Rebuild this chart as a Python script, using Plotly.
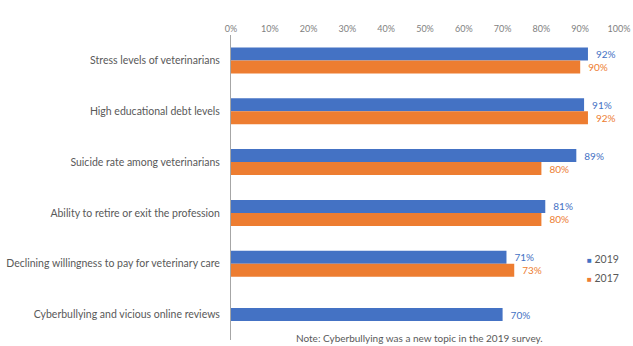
import plotly.graph_objects as go

categories = [
    "Stress levels of veterinarians",
    "High educational debt levels",
    "Suicide rate among veterinarians",
    "Ability to retire or exit the profession",
    "Declining willingness to pay for veterinary care",
    "Cyberbullying and vicious online reviews",
]
values_2019 = [0.92, 0.91, 0.89, 0.81, 0.71, 0.70]
values_2017 = [0.90, 0.92, 0.80, 0.80, 0.73, None]
tick_vals = [0, 0.1, 0.2, 0.3, 0.4, 0.5, 0.6, 0.7, 0.8, 0.9, 1.0]
tick_text = ["0%", "10%", "20%", "30%", "40%", "50%", "60%", "70%", "80%", "90%", "100%"]
series_names = ["2019", "2017"]
note = "Note: Cyberbullying was a new topic in the 2019 survey."

BLUE = "#4472C4"
ORANGE = "#ED7D31"
W = 0.255
FONT = "Lato"

idx = list(range(len(categories)))
offs_2019 = [-W / 2 if values_2017[i] is None else -W for i in idx]

fig = go.Figure()
fig.add_trace(go.Bar(
    name=series_names[0], y=idx, x=values_2019, orientation="h",
    marker=dict(color=BLUE, line=dict(width=0)),
    width=W, offset=offs_2019, showlegend=False,
    text=[f"\u2002{round(v*100)}%" for v in values_2019],
    textposition="outside", textfont=dict(color=BLUE, size=10, family=FONT),
    cliponaxis=False,
))
fig.add_trace(go.Bar(
    name=series_names[1], y=idx, x=values_2017, orientation="h",
    marker=dict(color=ORANGE, line=dict(width=0)),
    width=W, offset=0, showlegend=False,
    text=[f"\u2002{round(v*100)}%" if v is not None else "" for v in values_2017],
    textposition="outside", textfont=dict(color=ORANGE, size=10, family=FONT),
    cliponaxis=False,
))

legend_ann = []
for i, (name, col) in enumerate(zip(series_names, [BLUE, ORANGE])):
    legend_ann.append(dict(
        text=f"<span style='color:{col};font-size:8px'>■</span> {name}",
        x=0.912, y=0.265 - i * 0.062, xref="paper", yref="paper",
        xanchor="left", yanchor="middle", showarrow=False,
        font=dict(size=10.5, color="#595959", family=FONT)))

fig.update_layout(
    width=633, height=346,
    margin=dict(l=231, r=14, t=35, b=6),
    paper_bgcolor="white", plot_bgcolor="white",
    barmode="overlay", showlegend=False,
    font=dict(family=FONT, color="#595959", size=9),
    annotations=[dict(text=note, x=0.485, y=0.005, xref="paper", yref="paper",
                      xanchor="center", yanchor="middle", showarrow=False,
                      font=dict(size=10, color="#595959", family=FONT))] + legend_ann,
)
fig.update_xaxes(range=[0, 1.0], side="top", tickvals=tick_vals, ticktext=tick_text,
                 showgrid=False, zeroline=False, showline=False, ticks="",
                 automargin=False,
                 tickfont=dict(size=9, color="#7f7f7f", family=FONT))
fig.update_yaxes(range=[5.5, -0.5], tickvals=idx, ticktext=categories,
                 showgrid=False, zeroline=False, showline=True, linecolor="#a6a6a6",
                 linewidth=1, ticks="", automargin=False, ticklabelstandoff=8,
                 tickfont=dict(size=10.5, color="#595959", family=FONT))

fig.write_html("out.html")
